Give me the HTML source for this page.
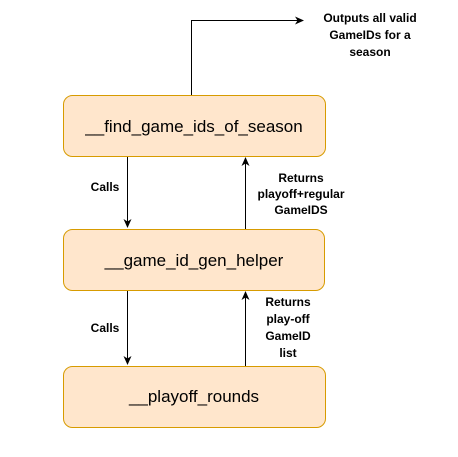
<!DOCTYPE html>
<html><head><meta charset="utf-8"><style>
html,body{margin:0;padding:0;background:#fff;}
svg{display:block;}
text{font-family:"Liberation Sans",sans-serif;}
</style></head><body>
<svg width="458" height="457" viewBox="0 0 458 457" xmlns="http://www.w3.org/2000/svg">
<defs><marker id="a" markerWidth="10" markerHeight="10" refX="8" refY="5" orient="auto" markerUnits="userSpaceOnUse"><path d="M0,1 L9,5 L0,9 L2.5,5 Z" fill="#000"/></marker></defs>
<rect x="63.5" y="95.5" width="262" height="61" rx="9" fill="#ffe6cc" stroke="#d79b00"/>
<rect x="63.5" y="229.5" width="261" height="61" rx="9" fill="#ffe6cc" stroke="#d79b00"/>
<rect x="63.5" y="366.5" width="262" height="61" rx="9" fill="#ffe6cc" stroke="#d79b00"/>
<text x="194" y="132" font-size="17" text-anchor="middle">__find_game_ids_of_season</text>
<text x="194" y="266" font-size="17" text-anchor="middle">__game_id_gen_helper</text>
<text x="194" y="402" font-size="17" text-anchor="middle">__playoff_rounds</text>
<path d="M191.5 95 V20.5 H303" fill="none" stroke="#000" marker-end="url(#a)"/>
<path d="M127.5 157 V227" fill="none" stroke="#000" marker-end="url(#a)"/>
<path d="M245.5 229 V158" fill="none" stroke="#000" marker-end="url(#a)"/>
<path d="M127.5 291 V364" fill="none" stroke="#000" marker-end="url(#a)"/>
<path d="M245.5 366 V292" fill="none" stroke="#000" marker-end="url(#a)"/>
<g font-size="12" font-weight="bold" text-anchor="middle">
<text x="370" y="22">Outputs all valid</text>
<text x="370" y="39">GameIDs for a</text>
<text x="370" y="56">season</text>
<text x="105" y="191">Calls</text>
<text x="105" y="332">Calls</text>
<text x="301" y="182">Returns</text>
<text x="301" y="198">playoff+regular</text>
<text x="301" y="214">GameIDS</text>
<text x="288" y="306">Returns</text>
<text x="288" y="323">play-off</text>
<text x="288" y="340">GameID</text>
<text x="288" y="357">list</text>
</g>
</svg>
</body></html>
